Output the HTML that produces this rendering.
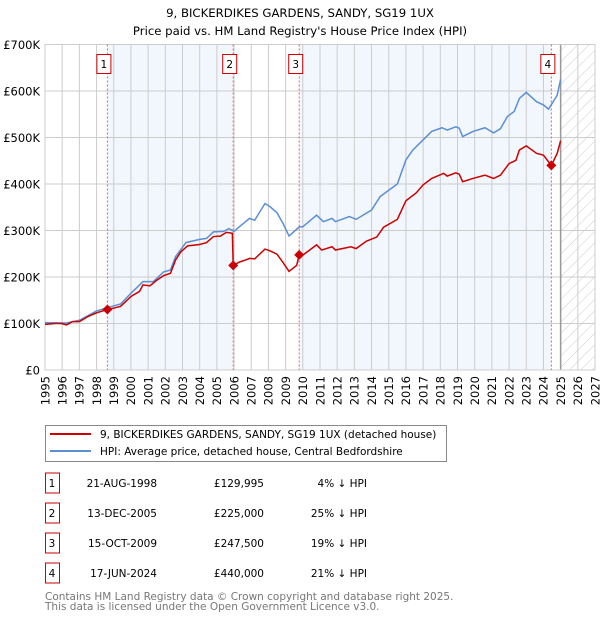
<!DOCTYPE html>
<html><head><meta charset="utf-8"><style>
body{margin:0;background:#fff;font-family:"DejaVu Sans","Liberation Sans",sans-serif;}
svg text{font-family:"DejaVu Sans","Liberation Sans",sans-serif;}
</style></head><body>
<svg id="chart" width="600" height="620" xmlns="http://www.w3.org/2000/svg">
<defs><pattern id="hatch" width="8" height="8" patternUnits="userSpaceOnUse" patternTransform="rotate(45)"><rect width="8" height="8" fill="#fff"/><line x1="0" y1="0" x2="0" y2="8" stroke="#ccc" stroke-width="1"/></pattern></defs>
<text x="300" y="17" text-anchor="middle" font-size="11.7">9, BICKERDIKES GARDENS, SANDY, SG19 1UX</text>
<text x="300" y="35" text-anchor="middle" font-size="11.7">Price paid vs. HM Land Registry's House Price Index (HPI)</text>
<g id="plot"></g>
<g>
<rect x="45.5" y="425.5" width="401" height="36" fill="#fff" stroke="#888"/>
<line x1="50" y1="434" x2="91" y2="434" stroke="#cc0000" stroke-width="2"/>
<text x="100" y="438" font-size="10.5">9, BICKERDIKES GARDENS, SANDY, SG19 1UX (detached house)</text>
<line x1="50" y1="451" x2="91" y2="451" stroke="#5b8fd4" stroke-width="2"/>
<text x="100" y="455" font-size="10.5">HPI: Average price, detached house, Central Bedfordshire</text>
</g>
<g id="table" font-size="10.5"></g>
<text x="45" y="600" font-size="10.5" fill="#777">Contains HM Land Registry data © Crown copyright and database right 2025.</text>
<text x="45" y="610" font-size="10.5" fill="#777">This data is licensed under the Open Government Licence v3.0.</text>
</svg>
<script>
const hpiYears=[1995,1996.25,1997,1998,1998.63,1999.4,2000,2000.7,2001.3,2001.9,2002.3,2002.6,2003.2,2004,2004.4,2004.8,2005.4,2005.7,2006,2006.3,2006.9,2007.2,2007.8,2008.1,2008.5,2008.85,2009.2,2009.8,2010,2010.8,2011.2,2011.7,2011.9,2012.7,2013.1,2014,2014.5,2015.5,2016,2016.4,2017,2017.5,2018.1,2018.4,2018.9,2019.1,2019.3,2019.9,2020.6,2021.1,2021.5,2021.9,2022.3,2022.6,2023,2023.6,2024,2024.3,2024.8,2025];
const hpiValues=[102,101,107,127,134,142,165,190,190,211,215,244,274,281,283,297,298,304,298,308,326,322,358,351,338,315,288,308,308,333,319,326,319,330,324,344,373,400,452,473,495,513,521,516,523,520,502,513,521,510,519,545,556,584,597,577,570,561,591,625];
const ppYears=[1995,1995.6,1995.95,1996.25,1996.6,1997,1997.5,1998,1998.63,1999.1,1999.4,2000,2000.5,2000.7,2001.1,2001.5,2001.9,2002.3,2002.6,2002.9,2003.3,2004,2004.4,2004.8,2005.2,2005.55,2005.9,2005.95,2006.3,2006.7,2006.9,2007.2,2007.8,2008.1,2008.5,2008.85,2009.2,2009.64,2009.79,2010,2010.8,2011.1,2011.7,2011.9,2012.8,2013.1,2013.7,2014.3,2014.7,2015.5,2016,2016.6,2017,2017.5,2018.2,2018.4,2018.9,2019.1,2019.3,2019.9,2020.6,2021.1,2021.5,2022,2022.4,2022.6,2023,2023.6,2024,2024.46,2024.8,2025];
const ppValues=[98,100,100,97,104,104,115,123,130,134,137,158,169,183,181,193,203,208,237,254,267,270,274,287,288,296,294,225,232,237,240,239,260,256,249,231,212,225,247,247,269,258,265,258,265,261,277,286,307,324,364,381,398,412,423,417,424,421,405,412,419,412,419,444,451,473,482,466,462,440,466,493];
const saleLabels=["1","2","3","4"];
const saleYears=[1998.63,2005.95,2009.79,2024.46];
const saleValues=[129.995,225,247.5,440];
const saleDates=["21-AUG-1998","13-DEC-2005","15-OCT-2009","17-JUN-2024"];
const salePrices=["£129,995","£225,000","£247,500","£440,000"];
const saleDiffs=["4% ↓ HPI","25% ↓ HPI","19% ↓ HPI","21% ↓ HPI"];
const yTicks=[0,100,200,300,400,500,600,700];
const yTickLabels=["£0","£100K","£200K","£300K","£400K","£500K","£600K","£700K"];
const xTicks=[1995,1996,1997,1998,1999,2000,2001,2002,2003,2004,2005,2006,2007,2008,2009,2010,2011,2012,2013,2014,2015,2016,2017,2018,2019,2020,2021,2022,2023,2024,2025,2026,2027];
const X0=45,X1=595,Y0=370,Y1=44.5;
const xs=y=>X0+(y-1995)/32*(X1-X0);
const ys=v=>Y0-v/700*(Y0-Y1);
const NS="http://www.w3.org/2000/svg";
const plot=document.getElementById('plot');
function mk(tag,attrs,parent){const e=document.createElementNS(NS,tag);for(const k in attrs)e.setAttribute(k,attrs[k]);(parent||plot).appendChild(e);return e;}
let r;
r=mk('rect',{x:X0,y:Y1,width:X1-X0,height:Y0-Y1,fill:'#fff'});


r=mk('rect',{x:xs(saleYears[0]),y:Y1,width:xs(saleYears[1])-xs(saleYears[0]),height:Y0-Y1,fill:'#f2f6fd'});


r=mk('rect',{x:xs(saleYears[2]),y:Y1,width:xs(saleYears[3])-xs(saleYears[2]),height:Y0-Y1,fill:'#f2f6fd'});


r=mk('rect',{x:xs(2025),y:Y1,width:X1-xs(2025),height:Y0-Y1,fill:'url(#hatch)'});


xTicks.forEach(t=>{const l=mk('line',{x1:xs(t),x2:xs(t),y1:Y1,y2:Y0,stroke:'#ccc','stroke-width':1});


const tx=mk('text',{x:0,y:0,'font-size':11.5,'text-anchor':'end',transform:`translate(${xs(t)+4.3},${Y0+6}) rotate(-90)`});tx.textContent=t;

});
yTicks.forEach((t,i)=>{const l=mk('line',{x1:X0,x2:X1,y1:ys(t),y2:ys(t),stroke:'#ccc','stroke-width':1});


const tx=mk('text',{x:X0-5,y:ys(t)+4.5,'font-size':11.5,'text-anchor':'end'});tx.textContent=yTickLabels[i];

});
r=mk('line',{x1:xs(2025),x2:xs(2025),y1:Y1,y2:Y0,stroke:'#999','stroke-width':1.5});


r=mk('rect',{x:X0,y:Y1,width:X1-X0,height:Y0-Y1,fill:'none',stroke:'#ccc'});


saleYears.forEach((s,i)=>{const l=mk('line',{x1:xs(s),x2:xs(s),y1:Y1,y2:Y0,stroke:'#f06060','stroke-width':1,'stroke-dasharray':'2,2'});


const b=mk('rect',{x:xs(s)-10.5,y:54.5,width:14,height:19,fill:'#fff',stroke:'#cc0000'});


const t=mk('text',{x:xs(s)-3.5,y:68,'font-size':10.5,'text-anchor':'middle'});t.textContent=saleLabels[i];

});
const hp=mk('polyline',{points:hpiYears.map((y,i)=>xs(y)+','+ys(hpiValues[i])).join(' '),fill:'none',stroke:'#5b8fd4','stroke-width':1.5});


const pp=mk('polyline',{points:ppYears.map((y,i)=>xs(y)+','+ys(ppValues[i])).join(' '),fill:'none',stroke:'#cc0000','stroke-width':1.5});


saleYears.forEach((s,i)=>{const x=xs(s),y=ys(saleValues[i]);const d=mk('polygon',{points:`${x},${y-5} ${x+5},${y} ${x},${y+5} ${x-5},${y}`,fill:'#cc0000'});

});
const tb=document.getElementById('table');
saleLabels.forEach((lab,i)=>{const cy=483+i*30;
const b=mk('rect',{x:45.5,y:cy-10,width:14,height:20,fill:'#fff',stroke:'#cc0000'},tb);


const vals=[[lab,52,'middle'],[saleDates[i],157,'end'],[salePrices[i],264,'end'],[saleDiffs[i],367,'end']];
vals.forEach(v=>{const t=mk('text',{x:v[1],y:cy+4,'text-anchor':v[2]},tb);t.textContent=v[0];

});});
</script>
</body></html>
